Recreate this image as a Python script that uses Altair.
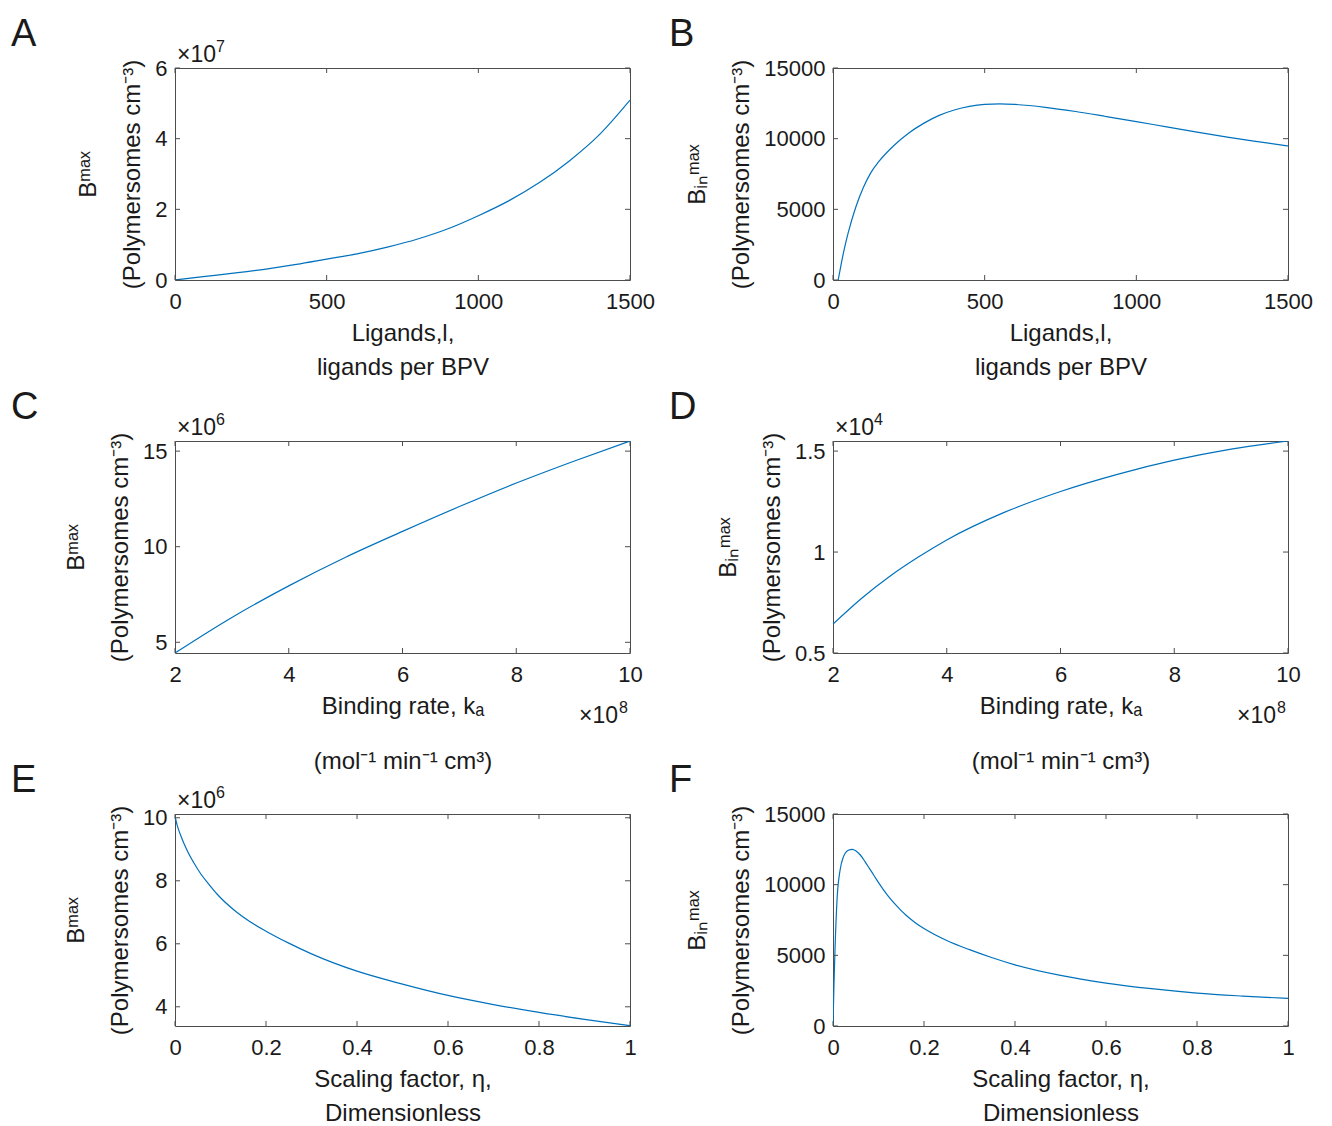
import altair as alt
import pandas as pd

# ---------------- data ----------------
# Panel A: B^max (x1e7) vs ligands per BPV
A_x = [0, 100, 200, 300, 400, 500, 600, 700, 800, 900, 1000, 1100, 1200, 1300, 1400, 1500]
A_y = [0.0, 0.10, 0.20, 0.31, 0.44, 0.59, 0.74, 0.93, 1.16, 1.45, 1.82, 2.24, 2.75, 3.37, 4.12, 5.09]

# Panel B: B_in^max vs ligands per BPV
B_x = [17, 25, 35, 50, 75, 100, 125, 150, 200, 250, 300, 350, 400, 450, 500, 550, 600,
       700, 800, 900, 1000, 1100, 1200, 1300, 1400, 1500]
B_y = [0, 900, 1980, 3330, 5150, 6550, 7600, 8350, 9500, 10400, 11100, 11650, 12030, 12280,
       12420, 12460, 12420, 12220, 11920, 11570, 11210, 10830, 10460, 10110, 9790, 9480]

# Panel C: B^max (x1e6) vs binding rate (x1e8)
C_x = [2, 3, 4, 5, 6, 7, 8, 9, 10]
C_y = [4.44, 6.30, 7.95, 9.45, 10.80, 12.10, 13.33, 14.46, 15.53]

# Panel D: B_in^max (x1e4) vs binding rate (x1e8)
D_x = [2, 2.5, 3, 3.5, 4, 5, 6, 7, 8, 9, 10]
D_y = [0.643, 0.77, 0.88, 0.975, 1.06, 1.195, 1.30, 1.385, 1.455, 1.51, 1.55]

# Panel E: B^max (x1e6) vs scaling factor eta
E_x = [0, 0.005, 0.0117, 0.0264, 0.041, 0.0557, 0.075, 0.0923, 0.129, 0.165, 0.2,
       0.25, 0.3, 0.4, 0.5, 0.6, 0.7, 0.8, 0.9, 1.0]
E_y = [10.05, 9.75, 9.47, 8.97, 8.58, 8.24, 7.88, 7.58, 7.08, 6.70, 6.40,
       6.02, 5.68, 5.13, 4.72, 4.36, 4.07, 3.82, 3.60, 3.40]

# Panel F: B_in^max vs scaling factor eta
F_x = [0, 0.002, 0.0044, 0.0088, 0.0154, 0.0227, 0.0337, 0.0425, 0.05, 0.06, 0.07,
       0.08, 0.09, 0.1, 0.12, 0.14, 0.16, 0.18, 0.2, 0.25, 0.3, 0.35, 0.4, 0.5,
       0.6, 0.7, 0.8, 0.9, 1.0]
F_y = [0, 2800, 5400, 8900, 11000, 11950, 12430, 12500, 12400, 12100, 11650,
       11150, 10650, 10150, 9250, 8500, 7850, 7330, 6900, 6050, 5400, 4830, 4330, 3580,
       3040, 2640, 2330, 2120, 1950]

# tick values
LIG_TICKS = [0, 500, 1000, 1500]
KA_TICKS = [2, 4, 6, 8, 10]
ETA_TICKS = [0, 0.2, 0.4, 0.6, 0.8, 1]
A_YT = [0, 2, 4, 6]
B_YT = [0, 5000, 10000, 15000]
C_YT = [5, 10, 15]
D_YT = [0.5, 1, 1.5]
E_YT = [4, 6, 8, 10]
F_YT = [0, 5000, 10000, 15000]

# titles
Y_MAX = ["Bᵐᵃˣ", "(Polymersomes cm⁻³)"]
Y_IN = ["Bᵢₙᵐᵃˣ", "(Polymersomes cm⁻³)"]
X_LIG = ["Ligands,l,", "ligands per BPV"]
X_KA = ["Binding rate, kₐ", "(mol⁻¹ min⁻¹ cm³)"]
X_ETA = ["Scaling factor, η,", "Dimensionless"]

# ---------------- style ----------------
W, H = 455, 212
FONT = "Liberation Sans"
LINE = "#0072BD"
TXT = "#1a1a1a"
BOX = "#4d4d4d"
TL = 5
LABEL_EXPR = "datum.value + ''"


def txt(s, x, y, size, align="left", baseline="alphabetic"):
    return alt.Chart(pd.DataFrame({"t": [s]})).mark_text(
        font=FONT, fontSize=size, align=align, baseline=baseline, color=TXT
    ).encode(text="t:N", x=alt.value(x), y=alt.value(y))


def panel(xs, ys, xdom, ydom, xticks, yticks, xtitle, ytitle, letter,
          top_exp=None, bottom_exp=None, xlh=34):
    df = pd.DataFrame({"x": xs, "y": ys})
    X = alt.X("x:Q", scale=alt.Scale(domain=xdom, nice=False, zero=False),
              axis=alt.Axis(values=xticks, labelExpr=LABEL_EXPR, title=xtitle,
                            titleLineHeight=xlh))
    Y = alt.Y("y:Q", scale=alt.Scale(domain=ydom, nice=False, zero=False),
              axis=alt.Axis(values=yticks, labelExpr=LABEL_EXPR, title=ytitle))
    line = alt.Chart(df).mark_line(color=LINE, strokeWidth=1.2, clip=True,
                                   interpolate="monotone").encode(x=X, y=Y)
    xt = pd.DataFrame({"x": xticks})
    yt = pd.DataFrame({"y": yticks})
    st = dict(color=BOX, strokeWidth=1)
    layers = [
        line,
        alt.Chart(xt).mark_rule(**st).encode(x=X, y=alt.value(H), y2=alt.value(H - TL)),
        alt.Chart(xt).mark_rule(**st).encode(x=X, y=alt.value(0), y2=alt.value(TL)),
        alt.Chart(yt).mark_rule(**st).encode(y=Y, x=alt.value(0), x2=alt.value(TL)),
        alt.Chart(yt).mark_rule(**st).encode(y=Y, x=alt.value(W), x2=alt.value(W - TL)),
        txt(letter, -164, -22, 38),
    ]
    if top_exp:
        layers += [txt("×10", 2, -6, 23), txt(top_exp, 41, -16, 16)]
    if bottom_exp:
        layers += [txt("×10", 443, H + 70, 23, align="right"), txt(bottom_exp, 444, H + 60, 16)]
    return alt.layer(*layers).properties(width=W, height=H)


pA = panel(A_x, A_y, [0, 1500], [0, 6], LIG_TICKS, A_YT, X_LIG, Y_MAX, "A", top_exp="7")
pB = panel(B_x, B_y, [0, 1500], [0, 15000], LIG_TICKS, B_YT, X_LIG, Y_IN, "B")
pC = panel(C_x, C_y, [2, 10], [4.44, 15.53], KA_TICKS, C_YT, X_KA, Y_MAX, "C",
           top_exp="6", bottom_exp="8", xlh=55)
pD = panel(D_x, D_y, [2, 10], [0.5, 1.55], KA_TICKS, D_YT, X_KA, Y_IN, "D",
           top_exp="4", bottom_exp="8", xlh=55)
pE = panel(E_x, E_y, [0, 1], [3.39, 10.12], ETA_TICKS, E_YT, X_ETA, Y_MAX, "E", top_exp="6")
pF = panel(F_x, F_y, [0, 1], [0, 15000], ETA_TICKS, F_YT, X_ETA, Y_IN, "F")

chart = alt.concat(
    pA, pB, pC, pD, pE, pF, columns=2, bounds="flush",
    spacing={"row": 161, "column": 203},
).properties(
    padding={"left": 2, "top": 7, "right": 5, "bottom": 5}
).configure_view(
    stroke=BOX, strokeWidth=1
).configure_axis(
    domain=False, ticks=False, grid=False,
    labelFont=FONT, labelFontSize=22, labelColor=TXT,
    labelFlush=False, labelOverlap=False,
    titleFont=FONT, titleFontSize=24, titleFontWeight="normal", titleColor=TXT,
).configure_axisX(
    labelPadding=11, titlePadding=9
).configure_axisY(
    labelPadding=8, titlePadding=10, titleLineHeight=44
)

chart.save("out.html", embed_options={"renderer": "svg", "actions": False})
